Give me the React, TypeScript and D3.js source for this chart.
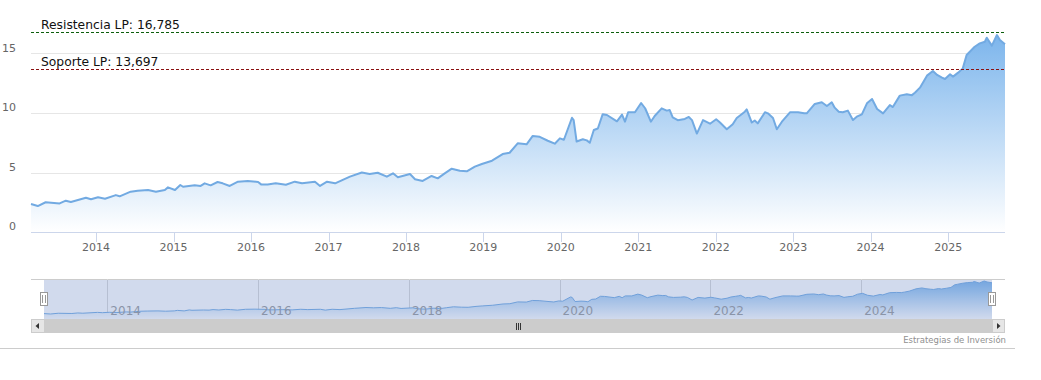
import React from "react";
import * as d3 from "d3";

const dates = [
  "2013-02-28","2013-04-01","2013-05-08","2013-07-13","2013-08-11","2013-09-04","2013-11-14","2013-12-08",
  "2014-01-10","2014-02-12","2014-04-04","2014-04-22","2014-06-13","2014-07-16","2014-09-03","2014-10-10","2014-11-21","2014-12-06",
  "2015-01-08","2015-02-02","2015-02-15","2015-04-11","2015-05-09","2015-05-28","2015-06-25","2015-07-28","2015-08-21","2015-09-23","2015-11-01","2015-12-17",
  "2016-02-04","2016-02-18","2016-03-20","2016-04-27","2016-06-14","2016-07-26","2016-08-29","2016-10-29","2016-11-22","2016-12-25",
  "2017-02-01","2017-04-12","2017-06-07","2017-07-14","2017-08-21","2017-10-03","2017-11-01","2017-11-24",
  "2018-01-20","2018-02-13","2018-03-21","2018-05-02","2018-05-31","2018-07-03","2018-08-05","2018-09-12","2018-10-15","2018-11-22","2018-12-25",
  "2019-02-11","2019-04-02","2019-05-05","2019-06-12","2019-07-24","2019-08-22","2019-09-24","2019-11-01","2019-12-04","2019-12-28",
  "2020-01-16","2020-02-23","2020-03-02","2020-03-16","2020-04-14","2020-05-03","2020-05-17","2020-06-05","2020-06-24","2020-07-17","2020-08-06","2020-09-22","2020-10-16","2020-10-30","2020-11-14","2020-12-16",
  "2021-01-14","2021-02-02","2021-03-01","2021-03-19","2021-04-21","2021-05-15","2021-05-29","2021-06-12","2021-07-06","2021-08-08","2021-08-27","2021-09-11","2021-10-04","2021-11-02","2021-12-05",
  "2022-01-03","2022-01-21","2022-02-22","2022-03-22","2022-04-10","2022-05-03","2022-05-18","2022-05-27","2022-06-20","2022-07-04","2022-07-18","2022-08-21","2022-09-04","2022-09-28","2022-10-16","2022-11-09","2022-12-17",
  "2023-01-24","2023-02-22","2023-03-06","2023-04-13","2023-05-16","2023-06-09","2023-07-02","2023-07-16","2023-08-04","2023-08-23","2023-09-16","2023-10-10","2023-10-28","2023-11-21","2023-12-15",
  "2024-01-08","2024-02-01","2024-02-29","2024-04-01","2024-04-15","2024-05-18","2024-06-20","2024-07-14","2024-07-28","2024-08-21","2024-09-23","2024-10-21","2024-11-10","2024-12-03","2024-12-17",
  "2025-01-10","2025-01-24","2025-02-17","2025-03-11","2025-03-29","2025-04-13","2025-05-06","2025-05-30","2025-06-23","2025-07-02","2025-07-26","2025-08-19","2025-09-02","2025-09-26"
];

const values = [
  2.35,2.18,2.5,2.4,2.63,2.52,2.88,2.75,
  2.92,2.8,3.1,3.0,3.39,3.47,3.53,3.39,3.53,3.75,
  3.53,3.95,3.8,3.92,3.87,4.09,3.92,4.2,4.09,3.87,4.23,4.29,
  4.2,4.0,4.0,4.09,3.97,4.23,4.09,4.23,3.87,4.23,
  4.09,4.65,5.0,4.87,4.98,4.65,4.93,4.6,
  4.87,4.43,4.29,4.71,4.51,4.93,5.32,5.15,5.1,5.49,5.71,
  5.99,6.55,6.66,7.45,7.37,8.07,8.0,7.67,7.42,7.87,
  7.75,9.6,9.4,7.6,7.79,7.7,7.5,8.57,8.7,9.9,9.83,9.3,9.87,9.27,10.06,10.06,
  10.84,10.4,9.27,9.75,10.39,10.2,10.25,9.64,9.4,9.5,9.67,9.4,8.27,9.4,9.1,
  9.47,9.2,8.63,9.05,9.58,9.89,10.11,10.3,9.2,9.37,9.13,10.06,9.97,9.58,8.63,9.27,10.06,
  10.06,9.97,9.97,10.76,10.9,10.59,10.9,10.45,10.11,10.06,10.2,9.41,9.69,9.89,10.81,
  11.18,10.34,9.97,10.67,10.5,11.46,11.57,11.5,11.7,12.13,13.14,13.53,13.2,12.97,12.86,
  13.25,13.06,13.39,13.75,14.87,15.15,15.57,15.85,15.99,16.33,15.66,16.55,16.13,15.77
];

const yTicks = [0, 5, 10, 15];
const resistanceLabel = "Resistencia LP: 16,785";
const resistanceValue = 16.785;
const supportLabel = "Soporte LP: 13,697";
const supportValue = 13.697;
const creditText = "Estrategias de Inversión";

const parse = d3.timeParse("%Y-%m-%d");
const data = dates.map((d, i) => ({ date: parse(d) as Date, v: values[i] }));

const W = 1041;
const H = 380;
const FONT = "'DejaVu Sans', Verdana, sans-serif";

export default function App() {
  const domain = d3.extent(data, (d) => d.date) as [Date, Date];
  const x = d3.scaleTime().domain(domain).range([31, 1005]);
  const y = d3.scaleLinear().domain([0, 18]).range([232, 17.8]);

  const nx = d3.scaleTime().domain(domain).range([44, 992]);
  const vmax = d3.max(values) as number;
  const ny = d3.scaleLinear().domain([0, vmax]).range([319, 281]);

  const area = d3.area<any>().x((d) => x(d.date)).y0(y(0)).y1((d) => y(d.v));
  const line = d3.line<any>().x((d) => x(d.date)).y((d) => y(d.v));
  const nArea = d3.area<any>().x((d) => nx(d.date)).y0(ny(0)).y1((d) => ny(d.v));
  const nLine = d3.line<any>().x((d) => nx(d.date)).y((d) => ny(d.v));

  const xTicks = d3.timeYear.range(d3.timeYear.ceil(domain[0]), domain[1]);
  const nTicks = xTicks.filter((t) => t.getFullYear() % 2 === 0);

  const fmtYear = d3.timeFormat("%Y");
  const ry = Math.round(y(resistanceValue)) + 0.5;
  const sy = Math.round(y(supportValue)) + 0.5;

  return (
    <div style={{ position: "absolute", left: 0, top: 0 }}>
      <svg width={W} height={H} style={{ display: "block", background: "#fff" }}>
        <defs>
          <linearGradient id="mainGrad" x1="0" y1="0" x2="0" y2="1">
            <stop offset="0" stopColor="#7cb5ec" stopOpacity={1} />
            <stop offset="1" stopColor="#ffffff" stopOpacity={1} />
          </linearGradient>
          <linearGradient id="navGrad" x1="0" y1="0" x2="0" y2="1">
            <stop offset="0" stopColor="#7cb5ec" stopOpacity={1} />
            <stop offset="1" stopColor="#ffffff" stopOpacity={1} />
          </linearGradient>
        </defs>

        {/* grid lines */}
        {yTicks.filter((t) => t > 0).map((t) => (
          <line key={t} x1={31} x2={1005} y1={Math.round(y(t)) + 0.5} y2={Math.round(y(t)) + 0.5} stroke="#e6e6e6" strokeWidth={1} />
        ))}

        {/* series */}
        <path d={area(data) as string} fill="url(#mainGrad)" />
        <path d={line(data) as string} fill="none" stroke="#72aae2" strokeWidth={2} strokeLinejoin="round" />

        {/* x axis */}
        <line x1={31} x2={1005} y1={232.5} y2={232.5} stroke="#ccd6eb" strokeWidth={1} />
        {xTicks.map((t) => (
          <g key={+t}>
            <line x1={Math.round(x(t)) + 0.5} x2={Math.round(x(t)) + 0.5} y1={232} y2={242} stroke="#ccd6eb" strokeWidth={1} />
            <text x={x(t)} y={251} textAnchor="middle" fontFamily={FONT} fontSize={11} fill="#666666">
              {fmtYear(t)}
            </text>
          </g>
        ))}

        {/* y labels */}
        {yTicks.map((t) => (
          <text key={t} x={16} y={y(t) - 2} textAnchor="end" fontFamily={FONT} fontSize={11} fill="#666666">
            {t}
          </text>
        ))}

        {/* plot lines */}
        <line x1={31} x2={1005} y1={ry} y2={ry} stroke="#0b5d0b" strokeWidth={1} strokeDasharray="3,2" />
        <text x={41} y={ry - 4} fontFamily={FONT} fontSize={12.3} fill="#111">{resistanceLabel}</text>
        <line x1={31} x2={1005} y1={sy} y2={sy} stroke="#8b1010" strokeWidth={1} strokeDasharray="3,2" />
        <text x={41} y={sy - 4} fontFamily={FONT} fontSize={12.3} fill="#111">{supportLabel}</text>

        {/* navigator */}
        <line x1={31} x2={1005} y1={279.5} y2={279.5} stroke="#cccccc" strokeWidth={1} />
        {nTicks.map((t) => (
          <line key={+t} x1={Math.round(nx(t)) + 0.5} x2={Math.round(nx(t)) + 0.5} y1={279} y2={319} stroke="#d8d8d8" strokeWidth={1} />
        ))}
        <path d={nArea(data) as string} fill="url(#navGrad)" />
        <path d={nLine(data) as string} fill="none" stroke="#74ace4" strokeWidth={1} />
        <rect x={44} y={280} width={948} height={39} fill="rgba(102,133,194,0.3)" />
        {nTicks.map((t) => (
          <text key={+t} x={nx(t) + 3} y={315} fontFamily={FONT} fontSize={12} fill="#8a94a8">
            {fmtYear(t)}
          </text>
        ))}
        {/* handles */}
        {[44, 992].map((hx) => (
          <g key={hx}>
            <rect x={hx - 3.5} y={292.5} width={7} height={13} fill="#ffffff" stroke="#999999" strokeWidth={1} />
            <line x1={hx - 1.5} x2={hx - 1.5} y1={295} y2={303} stroke="#999999" />
            <line x1={hx + 1.5} x2={hx + 1.5} y1={295} y2={303} stroke="#999999" />
          </g>
        ))}

        {/* scrollbar */}
        <rect x={44} y={319} width={948} height={14} fill="#cccccc" />
        <rect x={31.5} y={319.5} width={13} height={13} fill="#e6e6e6" stroke="#cccccc" />
        <rect x={992.5} y={319.5} width={12} height={13} fill="#e6e6e6" stroke="#cccccc" />
        <path d="M 39 323 L 35.5 326 L 39 329 Z" fill="#333" />
        <path d="M 997 323 L 1000.5 326 L 997 329 Z" fill="#333" />
        {[-2, 0, 2].map((o) => (
          <line key={o} x1={518.5 + o} x2={518.5 + o} y1={323} y2={330} stroke="#333" strokeWidth={1} />
        ))}

        {/* credit and frame */}
        <text x={1006} y={343} textAnchor="end" fontFamily={FONT} fontSize={8.5} fill="#909090">{creditText}</text>
        <line x1={0} x2={1015} y1={348.5} y2={348.5} stroke="#cccccc" strokeWidth={1} />
      </svg>
    </div>
  );
}
